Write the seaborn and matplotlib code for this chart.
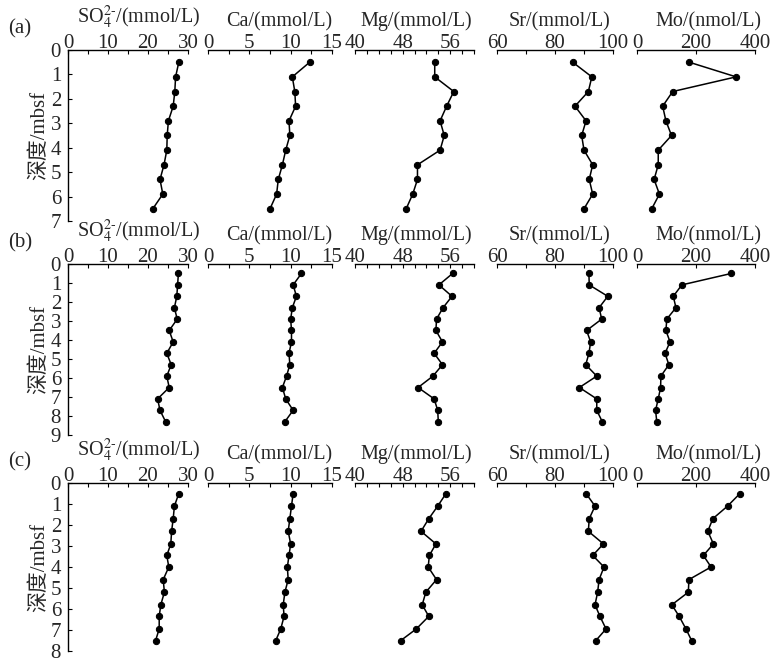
import numpy as np
import pandas as pd
import matplotlib
matplotlib.use("Agg")
import matplotlib.pyplot as plt
import seaborn as sns

sns.set_theme(style="white")
plt.rcParams['font.family'] = ['Liberation Serif', 'Noto Sans CJK SC']
plt.rcParams['mathtext.fontset'] = 'stix'

# --- data ---
depth_a = [0.5, 1.1, 1.7, 2.3, 2.9, 3.5, 4.1, 4.7, 5.3, 5.9, 6.5]
so4_a = [27.7, 26.9, 26.7, 26.3, 25.1, 24.8, 24.7, 24.0, 23.0, 23.7, 21.2]
ca_a = [12.3, 10.2, 10.5, 10.6, 9.8, 9.9, 9.4, 9.0, 8.5, 8.3, 7.5]
mg_a = [53.4, 53.4, 56.6, 55.4, 54.3, 55.0, 54.3, 50.5, 50.5, 49.7, 48.6]
sr_a = [86.1, 92.7, 91.5, 86.9, 90.7, 89.2, 90.0, 93.0, 91.8, 93.0, 90.0]
mo_a = [177, 336, 121, 87, 98, 117, 72, 72, 58, 76, 50]

depth_b = [0.5, 1.1, 1.7, 2.3, 2.9, 3.5, 4.1, 4.7, 5.3, 5.9, 6.5, 7.1, 7.7, 8.3]
so4_b = [27.6, 27.4, 27.2, 26.6, 27.3, 25.3, 26.3, 24.7, 25.8, 24.7, 25.3, 22.4, 23.0, 24.4]
ca_b = [11.3, 10.3, 10.7, 10.2, 10.0, 10.1, 10.1, 9.8, 9.9, 9.5, 9.0, 9.4, 10.3, 9.3]
mg_b = [56.4, 54.1, 56.3, 54.8, 53.7, 53.6, 54.7, 53.3, 54.7, 53.1, 50.6, 53.3, 53.9, 54.0]
sr_b = [91.7, 91.8, 98.2, 95.2, 96.1, 90.9, 92.3, 91.7, 90.6, 94.4, 88.4, 94.4, 94.4, 96.3]
mo_b = [319, 152, 123, 132, 101, 98, 112, 95, 108, 81, 80, 72, 63, 67]

depth_c = [0.5, 1.1, 1.7, 2.3, 2.9, 3.45, 4.0, 4.6, 5.2, 5.8, 6.35, 6.95, 7.5]
so4_c = [27.7, 26.6, 26.3, 25.9, 25.7, 24.7, 25.2, 23.8, 24.1, 23.2, 22.8, 22.8, 21.9]
ca_c = [10.3, 10.1, 9.9, 9.7, 10.0, 9.8, 9.6, 9.7, 9.3, 9.1, 9.2, 8.8, 8.2]
mg_c = [55.3, 53.9, 52.4, 51.1, 53.6, 52.5, 52.3, 53.7, 51.9, 51.3, 52.4, 50.3, 47.7]
sr_c = [90.7, 93.8, 91.8, 91.5, 96.7, 93.0, 96.9, 95.2, 94.7, 93.8, 95.5, 97.6, 94.1]
mo_c = [349, 307, 257, 240, 259, 225, 251, 176, 174, 118, 143, 166, 185]

row_labels = ['(a)', '(b)', '(c)']
max_depth = [7, 9, 8]
titles = [r'SO$_4^{2\text{-}}$/(mmol/L)', 'Ca/(mmol/L)', 'Mg/(mmol/L)',
          'Sr/(mmol/L)', 'Mo/(nmol/L)']
xlims = [(0, 30), (0, 15), (40, 60), (60, 100), (0, 400)]
major_ticks = [[0, 10, 20, 30], [0, 5, 10, 15], [40, 48, 56], [60, 80, 100], [0, 200, 400]]
minor_step = [5, 2.5, 2, 10, 200]

rows = [
    (depth_a, [so4_a, ca_a, mg_a, sr_a, mo_a]),
    (depth_b, [so4_b, ca_b, mg_b, sr_b, mo_b]),
    (depth_c, [so4_c, ca_c, mg_c, sr_c, mo_c]),
]

# --- layout in pixels ---
W, H = 773, 663
col_px = [(68, 188), (208, 332), (355, 474), (497, 613), (637, 755)]
row_px = [(50, 221), (264, 435), (483, 651)]
title_dx = [11, 9, 2, 4, 12]

fig = plt.figure(figsize=(W / 100, H / 100), dpi=100)

for r, (depth, series) in enumerate(rows):
    y0, y1 = row_px[r]
    for c, vals in enumerate(series):
        x0, x1 = col_px[c]
        ax = fig.add_axes([x0 / W, 1 - y1 / H, (x1 - x0) / W, (y1 - y0) / H])
        ax.set_facecolor('none')
        df = pd.DataFrame({'value': vals, 'depth': depth})
        sns.lineplot(data=df, x='value', y='depth', sort=False, estimator=None,
                     color='black', lw=1.1, marker='o', markersize=4.5,
                     markeredgecolor='black', ax=ax)
        ax.set_xlim(*xlims[c])
        ax.set_ylim(max_depth[r], 0)
        ax.xaxis.tick_top()
        ax.set_xticks(np.arange(xlims[c][0], xlims[c][1] + 1e-6, minor_step[c]), minor=True)
        ax.set_xticks(major_ticks[c])
        ax.tick_params(axis='x', which='both', direction='in', top=True, bottom=False,
                       length=3, width=0.8, color='black', labelsize=15, pad=-2)
        for s in ['right', 'bottom']:
            ax.spines[s].set_visible(False)
        ax.spines['top'].set_color('black')
        ax.spines['top'].set_linewidth(1.0)
        ax.xaxis.set_label_position('top')
        ax.set_xlabel('')
        ax.text(0.5 + title_dx[c] / (x1 - x0), 1 + 19 / (y1 - y0), titles[c],
                transform=ax.transAxes, ha='center', va='bottom', fontsize=14.5)
        if c == 0:
            ax.spines['left'].set_color('black')
            ax.spines['left'].set_linewidth(1.0)
            ax.set_yticks(range(0, max_depth[r] + 1))
            ax.tick_params(axis='y', direction='in', left=True, length=3, width=0.8,
                           color='black', labelsize=15, pad=5)
            ax.set_ylabel('深度/mbsf', fontsize=15, labelpad=1)
            fig.text(20 / W, 1 - (y0 - 21) / H, row_labels[r], fontsize=15,
                     ha='center', va='center')
        else:
            ax.spines['left'].set_visible(False)
            ax.set_yticks([])
            ax.set_ylabel('')
        ax.grid(False)

fig.savefig('out.png', dpi=100, facecolor='white')
